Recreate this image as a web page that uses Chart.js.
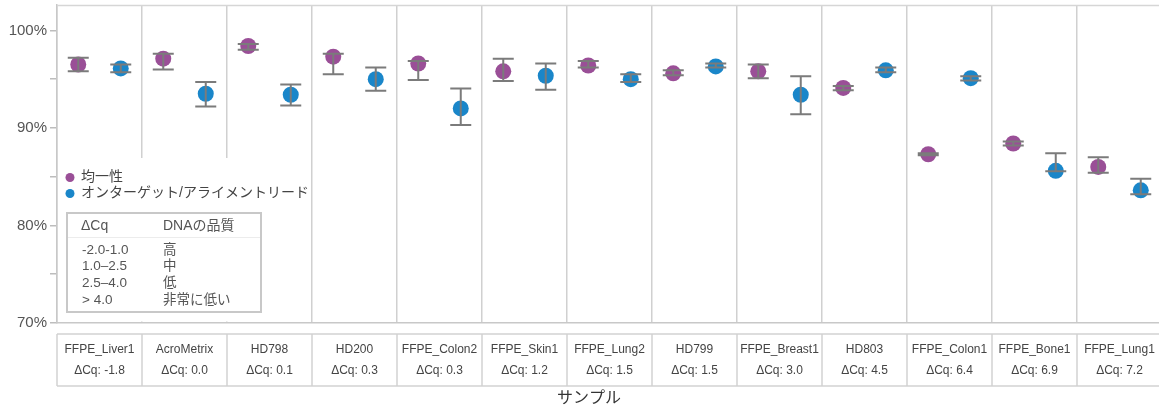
<!DOCTYPE html>
<html>
<head>
<meta charset="utf-8">
<script src="https://cdn.jsdelivr.net/npm/chart.js@4/dist/chart.umd.min.js"></script>
<style>
html,body{margin:0;padding:0;background:#fff;overflow:hidden;}
#wrap{width:1163px;height:412px;}
</style>
</head>
<body>
<div id="wrap"><canvas id="c" width="1163" height="412"></canvas></div>
<script>
const categories = ['FFPE_Liver1','AcroMetrix','HD798','HD200','FFPE_Colon2','FFPE_Skin1','FFPE_Lung2','HD799','FFPE_Breast1','HD803','FFPE_Colon1','FFPE_Bone1','FFPE_Lung1'];
const deltaCq = ['-1.8','0.0','0.1','0.3','0.3','1.2','1.5','1.5','3.0','4.5','6.4','6.9','7.2'];

const uniformity     = [96.5, 97.1, 98.4, 97.3, 96.6, 95.8, 96.4, 95.6, 95.8, 94.1, 87.3, 88.4, 86.0];
const uniformityLow  = [95.8, 96.0, 98.0, 95.5, 94.9, 94.8, 96.2, 95.4, 95.1, 93.85, 87.2, 88.2, 85.4];
const uniformityHigh = [97.2, 97.6, 98.6, 97.6, 96.85, 97.1, 96.85, 95.9, 96.5, 94.3, 87.4, 88.6, 87.0];

const onTarget     = [96.1, 93.5, 93.4, 95.0, 92.0, 95.35, 95.0, 96.3, 93.4, 95.9, 95.1, 85.6, 83.6];
const onTargetLow  = [95.7, 92.2, 92.3, 93.8, 90.3, 93.9, 94.7, 96.2, 91.4, 95.7, 94.85, 85.55, 83.2];
const onTargetHigh = [96.5, 94.7, 94.45, 96.2, 94.05, 96.6, 95.5, 96.6, 95.3, 96.2, 95.3, 87.4, 84.8];

const seriesNames = ['均一性', 'オンターゲット/アライメントリード'];
const yTickValues = [70, 75, 80, 85, 90, 95, 100];
const cqRanges = ['-2.0-1.0', '1.0–2.5', '2.5–4.0', '> 4.0'];
const cqQuality = ['高', '中', '低', '非常に低い'];
const xTitle = 'サンプル';

const PURPLE = '#9a4f97';
const BLUE = '#1a86c9';
const FONT = '"Liberation Sans", "Noto Sans CJK JP", sans-serif';

const offset = 0.25;
const ds1 = uniformity.map((v, i) => ({x: i + 0.5 - offset, y: v, lo: uniformityLow[i], hi: uniformityHigh[i]}));
const ds2 = onTarget.map((v, i) => ({x: i + 0.5 + offset, y: v, lo: onTargetLow[i], hi: onTargetHigh[i]}));

function noPad(s) { s.paddingTop = 0; s.paddingBottom = 0; s.paddingLeft = 0; s.paddingRight = 0; }

const decor = {
  id: 'decor',
  beforeDatasetsDraw(chart) {
    const ctx = chart.ctx, a = chart.chartArea;
    ctx.save();
    ctx.strokeStyle = '#d6d6d6';
    ctx.lineWidth = 1.5;
    ctx.beginPath();
    ctx.moveTo(a.left, a.top + 0.5);
    ctx.lineTo(a.right, a.top + 0.5);
    ctx.stroke();
    ctx.restore();
  },
  afterDatasetsDraw(chart) {
    const ctx = chart.ctx;
    const xs = chart.scales.x, ys = chart.scales.y;
    ctx.save();
    ctx.strokeStyle = '#7b7b7b';
    ctx.lineWidth = 2;
    chart.data.datasets.forEach(ds => {
      ds.data.forEach(p => {
        const px = xs.getPixelForValue(p.x);
        const yt = ys.getPixelForValue(p.hi);
        const yb = ys.getPixelForValue(p.lo);
        ctx.beginPath();
        ctx.moveTo(px, yt); ctx.lineTo(px, yb);
        ctx.moveTo(px - 10.5, yt); ctx.lineTo(px + 10.5, yt);
        ctx.moveTo(px - 10.5, yb); ctx.lineTo(px + 10.5, yb);
        ctx.stroke();
      });
    });
    ctx.restore();
  },
  afterDraw(chart) {
    const ctx = chart.ctx, a = chart.chartArea;
    const xs = chart.scales.x;
    ctx.save();
    // legend cover
    ctx.fillStyle = '#fff';
    ctx.fillRect(a.left + 1.5, 158, 242, a.bottom - 158 - 1.5);
    // legend items
    ctx.font = '14px ' + FONT;
    ctx.textBaseline = 'middle';
    ctx.textAlign = 'left';
    [[PURPLE, seriesNames[0], 177.5], [BLUE, seriesNames[1], 193.5]].forEach(([c, t, y]) => {
      ctx.fillStyle = c;
      ctx.beginPath(); ctx.arc(70, y, 4.5, 0, Math.PI * 2); ctx.fill();
      ctx.fillStyle = '#444';
      ctx.fillText(t, 81, y);
    });
    // ΔCq box
    ctx.strokeStyle = '#c8c8c8';
    ctx.lineWidth = 2;
    ctx.strokeRect(67, 213, 194, 99);
    ctx.strokeStyle = '#ececec';
    ctx.lineWidth = 1;
    ctx.beginPath(); ctx.moveTo(68, 237.5); ctx.lineTo(260, 237.5); ctx.stroke();
    ctx.fillStyle = '#555';
    ctx.font = '14px ' + FONT;
    ctx.fillText('ΔCq', 81, 226);
    ctx.fillText('DNAの品質', 163, 226);
    ctx.font = '13.5px ' + FONT;
    cqRanges.forEach((r, i) => {
      const y = 250 + i * 16.7;
      ctx.fillText(r, 82, y);
      ctx.fillText(cqQuality[i], 163, y);
    });
    // category table
    const top = 334, bot = 386;
    ctx.strokeStyle = '#d2d2d2';
    ctx.lineWidth = 1.5;
    const x0 = xs.getPixelForValue(0), x1 = xs.getPixelForValue(categories.length);
    ctx.beginPath();
    ctx.moveTo(x0, top); ctx.lineTo(x1, top);
    ctx.moveTo(x0, bot); ctx.lineTo(x1, bot);
    for (let i = 0; i <= categories.length; i++) {
      const px = xs.getPixelForValue(i);
      ctx.moveTo(px, top); ctx.lineTo(px, bot);
    }
    ctx.stroke();
    ctx.fillStyle = '#444';
    ctx.font = '12px ' + FONT;
    ctx.textAlign = 'center';
    categories.forEach((c, i) => {
      const px = xs.getPixelForValue(i + 0.5);
      ctx.fillText(c, px, 350);
      ctx.fillText('ΔCq: ' + deltaCq[i], px, 371);
    });
    // x title
    ctx.fillStyle = '#333';
    ctx.font = '16px ' + FONT;
    ctx.fillText(xTitle, 589, 399);
    ctx.restore();
  }
};

new Chart(document.getElementById('c'), {
  type: 'scatter',
  data: {
    datasets: [
      {label: seriesNames[0], data: ds1, backgroundColor: PURPLE, borderColor: PURPLE, pointRadius: 8, pointBorderWidth: 0},
      {label: seriesNames[1], data: ds2, backgroundColor: BLUE, borderColor: BLUE, pointRadius: 8, pointBorderWidth: 0}
    ]
  },
  options: {
    responsive: false,
    animation: false,
    layout: {autoPadding: false, padding: {top: 5, left: 0, right: 1, bottom: 0}},
    plugins: {legend: {display: false}, tooltip: {enabled: false}},
    scales: {
      x: {
        type: 'linear', min: 0, max: categories.length,
        ticks: {display: false, stepSize: 1},
        grid: {color: '#d0d0d0', lineWidth: 1.5, drawTicks: false},
        border: {display: true, color: '#c8c8c8', width: 1.5},
        afterFit(s) { s.height = 89; noPad(s); }
      },
      y: {
        min: 70, max: 102.6,
        afterBuildTicks(s) { s.ticks = yTickValues.map(v => ({value: v})); },
        ticks: {
          color: '#555', font: {size: 15, family: FONT}, padding: 3,
          callback: v => (v % 10 === 0 ? v + '%' : '')
        },
        grid: {drawOnChartArea: false, drawTicks: true, tickLength: 7, color: '#bdbdbd', lineWidth: 1.5},
        border: {display: true, color: '#c8c8c8', width: 1.5},
        afterFit(s) { s.width = 57; noPad(s); }
      }
    }
  },
  plugins: [decor]
});
</script>
</body>
</html>
